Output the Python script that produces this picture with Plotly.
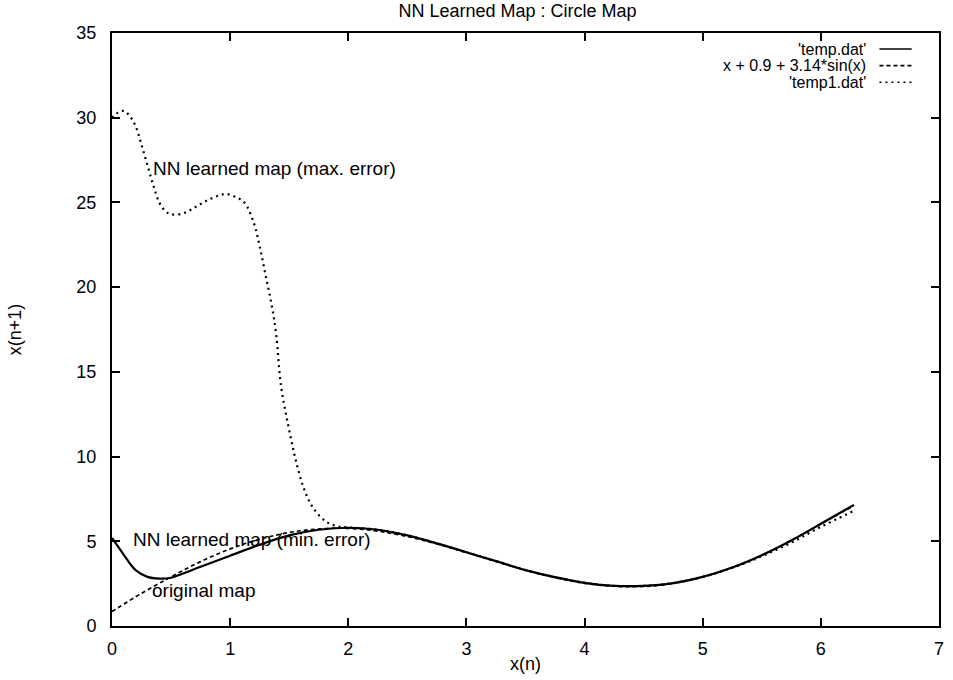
import plotly.graph_objects as go

# ---- data ----
# 'temp.dat' : NN learned map (min. error)
temp_x = [0.0, 0.05, 0.10, 0.15, 0.20, 0.30, 0.40, 0.50, 0.60, 0.75, 1.00, 1.25, 1.50, 1.75,
          2.00, 2.25, 2.50, 2.75, 3.00, 3.25, 3.50, 3.75, 4.00, 4.25, 4.50, 4.75, 5.00,
          5.25, 5.50, 5.75, 6.00, 6.28]
temp_y = [5.2, 4.7, 4.2, 3.7, 3.3, 2.9, 2.8, 2.85, 3.1, 3.5, 4.15, 4.8, 5.35, 5.68,
          5.8, 5.68, 5.35, 4.88, 4.35, 3.83, 3.3, 2.88, 2.55, 2.37, 2.37, 2.53, 2.9,
          3.45, 4.18, 5.05, 6.03, 7.15]

# x + 0.9 + 3.14*sin(x) : original map
orig_x = [0.0, 0.25, 0.50, 0.75, 1.00, 1.25, 1.50, 1.75, 2.00, 2.25, 2.50, 2.75, 3.00,
          3.25, 3.50, 3.75, 4.00, 4.25, 4.50, 4.75, 5.00, 5.25, 5.50, 5.75, 6.00, 6.28]
orig_y = [0.85, 1.93, 2.9, 3.8, 4.55, 5.12, 5.52, 5.73, 5.76, 5.6, 5.28, 4.85, 4.34,
          3.81, 3.3, 2.86, 2.52, 2.35, 2.33, 2.52, 2.89, 3.46, 4.18, 5.05, 6.02, 7.1]

# 'temp1.dat' : NN learned map (max. error)
temp1_x = [0.0, 0.05, 0.10, 0.15, 0.20, 0.25, 0.30, 0.35, 0.40, 0.45, 0.50, 0.60, 0.70,
           0.80, 0.90, 0.97, 1.05, 1.12, 1.20, 1.25, 1.30, 1.35, 1.39, 1.43, 1.49, 1.55,
           1.62, 1.70, 1.81, 1.90, 2.00, 2.25, 2.50, 2.75, 3.00, 3.25, 3.50, 3.75, 4.00,
           4.25, 4.50, 4.75, 5.00, 5.25, 5.50, 5.75, 6.00, 6.28]
temp1_y = [30.0, 30.3, 30.4, 30.1, 29.5, 28.4, 27.2, 26.0, 25.0, 24.5, 24.3, 24.35, 24.7,
           25.1, 25.4, 25.5, 25.3, 25.0, 23.8, 22.4, 20.7, 19.0, 17.2, 14.2, 11.9, 9.95,
           8.2, 7.0, 6.17, 5.9, 5.82, 5.68, 5.35, 4.88, 4.35, 3.83, 3.3, 2.88, 2.55,
           2.37, 2.37, 2.53, 2.9, 3.43, 4.12, 4.92, 5.85, 6.8]

legend_names = ["'temp.dat'", "x + 0.9 + 3.14*sin(x)", "'temp1.dat'"]
x_ticks = [0, 1, 2, 3, 4, 5, 6, 7]
y_ticks = [0, 5, 10, 15, 20, 25, 30, 35]

FONT = "Liberation Sans, Arial, Helvetica, sans-serif"
dashes = ["solid", "4px,3px", "2px,4px"]

fig = go.Figure()
fig.add_trace(go.Scatter(x=temp_x, y=temp_y, mode="lines", line=dict(color="black", width=2.2, dash=dashes[0], shape="spline"), showlegend=False))
fig.add_trace(go.Scatter(x=orig_x, y=orig_y, mode="lines", line=dict(color="black", width=1.7, dash=dashes[1], shape="spline"), showlegend=False))
fig.add_trace(go.Scatter(x=temp1_x, y=temp1_y, mode="lines", line=dict(color="black", width=2.2, dash=dashes[2], shape="spline"), showlegend=False))

# text labels on the curves
LBL = 19
fig.add_annotation(x=0.33, y=27.0, text="NN learned map (max. error)", showarrow=False,
                   xanchor="left", yanchor="middle", font=dict(size=LBL, color="black", family=FONT))
fig.add_annotation(x=0.16, y=5.1, text="NN learned map (min. error)", showarrow=False,
                   xanchor="left", yanchor="middle", font=dict(size=LBL, color="black", family=FONT))
fig.add_annotation(x=0.32, y=2.07, text="original map", showarrow=False,
                   xanchor="left", yanchor="middle", font=dict(size=LBL, color="black", family=FONT))

# gnuplot-style key: text then line sample
key_rows = [0.973, 0.945, 0.917]
for name, d, yy in zip(legend_names, dashes, key_rows):
    fig.add_annotation(x=0.913, y=yy, xref="paper", yref="paper", text=name, showarrow=False,
                       xanchor="right", yanchor="middle", borderpad=0,
                       font=dict(size=16, color="black", family=FONT))
    fig.add_shape(type="line", xref="paper", yref="paper", x0=0.928, x1=0.967, y0=yy, y1=yy,
                  line=dict(color="black", width=1.6, dash=d))

fig.update_layout(
    width=953, height=680,
    margin=dict(l=112, r=9, t=33, b=51),
    paper_bgcolor="white", plot_bgcolor="white",
    font=dict(family=FONT, size=18, color="black"),
    title=dict(text="NN Learned Map : Circle Map", x=0.543, xanchor="center", y=0.984, yanchor="middle",
               font=dict(size=18, family=FONT, color="black")),
    xaxis=dict(range=[0, 7], tickvals=x_ticks, ticktext=[str(v) for v in x_ticks],
               ticks="inside", ticklen=8, tickwidth=1.5, tickcolor="black",
               showline=True, linecolor="black", linewidth=2, mirror="ticks",
               showgrid=False, zeroline=False, ticklabelstandoff=5,
               title=dict(text="x(n)", font=dict(size=18, family=FONT), standoff=0),
               tickfont=dict(size=18, family=FONT)),
    yaxis=dict(range=[0, 35], tickvals=y_ticks, ticktext=[str(v) for v in y_ticks],
               ticks="inside", ticklen=8, tickwidth=1.5, tickcolor="black",
               showline=True, linecolor="black", linewidth=2, mirror="ticks",
               showgrid=False, zeroline=False, ticklabelstandoff=10,
               title=dict(text="x(n+1)", font=dict(size=18, family=FONT), standoff=50),
               tickfont=dict(size=18, family=FONT)),
)

fig.write_html("out.html")
